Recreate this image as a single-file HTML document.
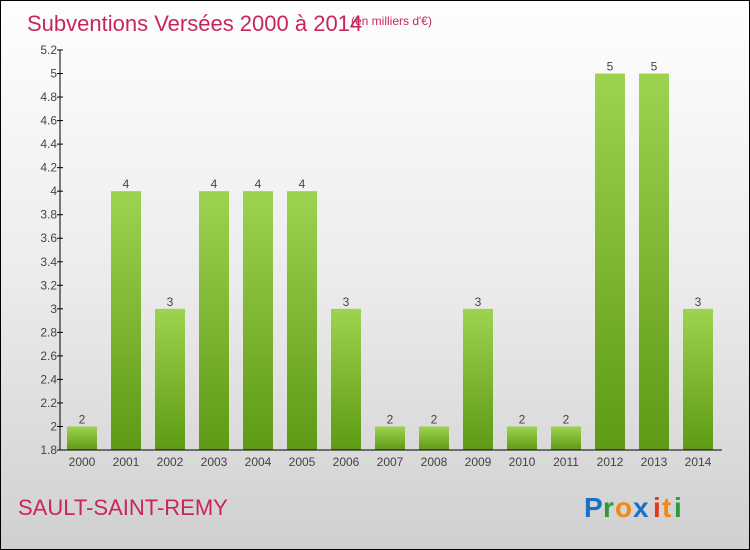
<!DOCTYPE html>
<html><head><meta charset="utf-8"><style>
body{margin:0}
#wrap{position:relative;width:748px;height:548px;border:1px solid #000;background:linear-gradient(#fefefe,#ececec 50%,#d0d0d0);font-family:"Liberation Sans",sans-serif;overflow:hidden}
</style></head><body>
<div id="wrap">
<svg id="chart" width="748" height="548">
<defs><linearGradient id="g" x1="0" y1="0" x2="0" y2="1"><stop offset="0" stop-color="#9dd34f"/><stop offset="1" stop-color="#5e9a14"/></linearGradient></defs>
<text x="26" y="30" font-size="22" fill="#c8265a">Subventions Versées 2000 à 2014</text>
<text x="350" y="24" font-size="12" fill="#c8265a">(en milliers d'€)</text>
<text x="17" y="514" font-size="22" fill="#c8265a">SAULT-SAINT-REMY</text>
<g font-size="28" font-weight="bold">
<text x="583" y="516" fill="#1a6fc8">P</text><text x="602" y="516" fill="#2a9a3a">r</text><text x="614" y="516" fill="#f08a10">o</text><text x="632" y="516" fill="#1a6fc8">x</text><text x="652" y="516" fill="#e03a1a">i</text><text x="661" y="516" fill="#f08a10">t</text><text x="673" y="516" fill="#2a9a3a">i</text></g>
<g id="plot"></g>
</svg></div>
<script>
const categories=["2000","2001","2002","2003","2004","2005","2006","2007","2008","2009","2010","2011","2012","2013","2014"];
const values=[2,4,3,4,4,4,3,2,2,3,2,2,5,5,3];
const valueLabels=["2","4","3","4","4","4","3","2","2","3","2","2","5","5","3"];
const yTicks=[1.8,2,2.2,2.4,2.6,2.8,3,3.2,3.4,3.6,3.8,4,4.2,4.4,4.6,4.8,5,5.2];
const yMin=1.8,yMax=5.2,yTop=49,yBot=449,x0=59,step=44,barW=30;
const y=v=>yBot-(v-yMin)/(yMax-yMin)*(yBot-yTop);
const xc=i=>x0+22+i*step;
const NS="http://www.w3.org/2000/svg",p=document.getElementById('plot');
function mk(t,a,txt){const e=document.createElementNS(NS,t);for(const k in a)e.setAttribute(k,a[k]);if(txt!==undefined)e.textContent=txt;p.appendChild(e);return e;}
yTicks.forEach(v=>{
const l=mk('line',{x1:x0-3,x2:x0+3,y1:y(v),y2:y(v),stroke:'#000'});


const t=mk('text',{x:x0-3,y:y(v)+4,'font-size':12,fill:'#444','text-anchor':'end'},String(v));


});
values.forEach((v,i)=>{
const r=mk('rect',{x:xc(i)-barW/2,y:y(v),width:barW,height:yBot-y(v),fill:'url(#g)'});


const t=mk('text',{x:xc(i),y:y(v)-3,'font-size':12,fill:'#444','text-anchor':'middle'},valueLabels[i]);


const c=mk('text',{x:xc(i),y:yBot+16,'font-size':12,fill:'#444','text-anchor':'middle'},categories[i]);


});
const ya=mk('line',{x1:x0,x2:x0,y1:yTop,y2:yBot,stroke:'#000'});


const xa=mk('line',{x1:x0,x2:721,y1:yBot,y2:yBot,stroke:'#000'});


</script>
</body></html>
